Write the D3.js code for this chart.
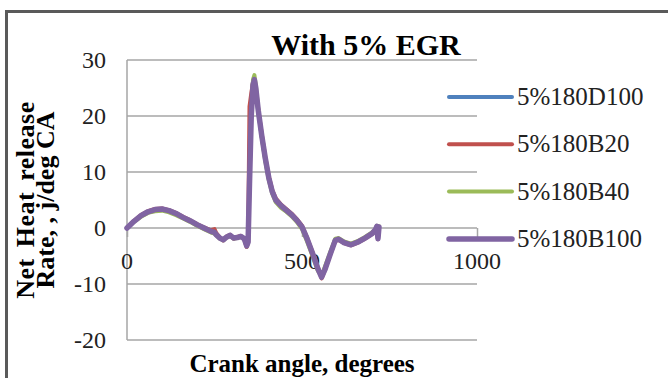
<!DOCTYPE html>
<html>
<head>
<meta charset="utf-8">
<script src="https://cdn.jsdelivr.net/npm/d3@7"></script>
</head>
<body style="margin:0">
<script>
// crank angle (deg)
const angles = [0, 20, 40, 60, 80, 100, 120, 140, 160, 180, 200, 220, 240, 250, 255, 265, 275, 285, 295, 305, 315, 325, 335, 342, 346, 350, 355, 360, 364, 368, 375, 385, 395, 405, 415, 425, 440, 455, 470, 485, 500, 515, 530, 545, 556, 565, 580, 595, 605, 620, 640, 660, 680, 700, 710, 714, 717, 720];

const d100 = [0, 1.2, 2.2, 2.9, 3.2, 3.3, 3.0, 2.5, 1.8, 1.2, 0.5, -0.1, -0.7, -0.9, -1.2, -1.8, -2.1, -1.6, -1.3, -1.8, -1.7, -1.5, -1.9, -3.1, -2.4, 9, 21, 26.2, 26.0, 24.6, 20.8, 16.3, 12.3, 8.9, 6.4, 4.9, 3.9, 3.1, 2.3, 1.3, 0.1, -2.1, -4.6, -7.3, -8.8, -7.4, -4.7, -2.1, -2.0, -2.6, -3.0, -2.5, -1.8, -1.0, -0.3, 0.3, -1.9, 0.2];
const b20 = [0, 1.3, 2.3, 3.0, 3.4, 3.5, 3.2, 2.7, 2.0, 1.4, 0.7, 0.1, -0.4, -0.2, -0.9, -1.7, -2.2, -1.5, -1.2, -1.9, -1.6, -1.4, -2.0, -3.4, -2.6, 21.7, 24, 26.0, 26.1, 24.8, 21.2, 16.8, 12.7, 9.3, 6.8, 5.3, 4.2, 3.4, 2.6, 1.6, 0.4, -1.8, -4.3, -7.0, -9.0, -7.6, -4.9, -2.3, -2.1, -2.7, -3.1, -2.6, -1.9, -1.1, -0.4, 0.2, -2.0, 0.1];
const b40 = [0, 1.1, 2.0, 2.7, 3.0, 3.1, 2.8, 2.3, 1.7, 1.1, 0.4, -0.2, -0.8, -1.0, -1.3, -1.9, -2.2, -1.7, -1.4, -1.9, -1.8, -1.6, -2.0, -3.3, -2.5, 8, 20, 26.5, 27.3, 25.5, 21.2, 16.2, 12.0, 8.6, 6.1, 4.6, 3.6, 2.9, 2.1, 1.1, -0.2, -2.5, -5.0, -7.6, -8.6, -7.0, -4.4, -1.9, -1.8, -2.4, -2.8, -2.3, -1.6, -0.8, -0.2, 0.4, -1.7, 0.3];
const b100 = [0, 1.2, 2.2, 2.9, 3.3, 3.4, 3.1, 2.6, 1.9, 1.3, 0.6, 0.0, -0.6, -0.8, -1.2, -1.8, -2.1, -1.6, -1.3, -1.8, -1.7, -1.5, -1.9, -3.2, -2.5, 8, 20, 25.5, 26.5, 25.0, 21.0, 16.5, 12.5, 9.0, 6.5, 5.0, 4.0, 3.2, 2.4, 1.4, 0.2, -2.0, -4.5, -7.2, -8.8, -7.5, -4.8, -2.2, -2.0, -2.6, -3.0, -2.5, -1.8, -1.0, -0.3, 0.3, -1.9, 0.2];

const seriesNames = ['5%180D100', '5%180B20', '5%180B40', '5%180B100'];
const seriesColors = ['#4f81bd', '#c0504d', '#9bbb59', '#8064a2'];
const seriesValues = [d100, b20, b40, b100];
const seriesWidths = [4, 4, 4, 5.5];

const yTicks = [30, 20, 10, 0, -10, -20];
const xTicks = [0, 500, 1000];

const W = 668, H = 378;
const plot = { left: 127, right: 477, top: 60, bottom: 340 };
const serif = '"Liberation Serif"';

const svg = d3.select('body').append('svg')
    .attr('width', W)
    .attr('height', H)
    .style('display', 'block');

// outer frame (only top/left visible)
svg.append('rect')
    .attr('x', 6.5).attr('y', 11.5)
    .attr('width', W).attr('height', H)
    .attr('fill', 'none')
    .attr('stroke', '#5a5a5a')
    .attr('stroke-width', 3);

const x = d3.scaleLinear().domain([0, 1000]).range([plot.left, plot.right]);
const y = d3.scaleLinear().domain([-20, 30]).range([plot.bottom, plot.top]);

// gridlines
svg.append('g')
    .selectAll('line')
    .data(yTicks)
    .join('line')
    .attr('x1', plot.left).attr('x2', plot.right)
    .attr('y1', d => y(d)).attr('y2', d => y(d))
    .attr('stroke', '#a6a6a6')
    .attr('stroke-width', 1.5);

// left axis line
svg.append('line')
    .attr('x1', plot.left).attr('x2', plot.left)
    .attr('y1', plot.top).attr('y2', plot.bottom)
    .attr('stroke', '#a6a6a6')
    .attr('stroke-width', 1.5);

// y tick labels
svg.append('g')
    .selectAll('text')
    .data(yTicks)
    .join('text')
    .attr('x', 106)
    .attr('y', d => y(d) + 8)
    .attr('text-anchor', 'end')
    .attr('font-size', 24)
    .style('font-family', serif)
    .attr('fill', '#222')
    .text(d => d);

// x axis at y=0 with ticks
const xAxis = d3.axisBottom(x).tickValues(xTicks).tickSize(9).tickFormat('');
const gx = svg.append('g')
    .attr('transform', `translate(0,${y(0)})`)
    .call(xAxis);
gx.select('.domain').remove();
gx.selectAll('line').attr('stroke', '#a6a6a6').attr('stroke-width', 1.5);

svg.append('g')
    .selectAll('text')
    .data(xTicks)
    .join('text')
    .attr('x', d => x(d))
    .attr('y', y(0) + 41)
    .attr('text-anchor', 'middle')
    .attr('font-size', 24)
    .style('font-family', serif)
    .attr('fill', '#222')
    .text(d => d);

// lines
const line = d3.line()
    .x((d, i) => x(angles[i]))
    .y(d => y(d));

seriesValues.forEach((vals, i) => {
    svg.append('path')
        .datum(vals)
        .attr('d', line)
        .attr('fill', 'none')
        .attr('stroke', seriesColors[i])
        .attr('stroke-width', seriesWidths[i])
        .attr('stroke-linejoin', 'round')
        .attr('stroke-linecap', 'round');
});

// title
svg.append('text')
    .attr('x', 366).attr('y', 55)
    .attr('text-anchor', 'middle')
    .attr('font-size', 30)
    .attr('font-weight', 'bold')
    .style('font-family', serif)
    .text('With 5% EGR');

// x label
svg.append('text')
    .attr('x', 302).attr('y', 372)
    .attr('text-anchor', 'middle')
    .attr('font-size', 25)
    .attr('font-weight', 'bold')
    .style('font-family', serif)
    .text('Crank angle, degrees');

// y label
const yl = svg.append('text')
    .attr('transform', 'translate(34,200) rotate(-90)')
    .attr('text-anchor', 'middle')
    .attr('font-size', 26)
    .attr('font-weight', 'bold')
    .style('font-family', serif);
yl.append('tspan').attr('x', 0).attr('y', 0).style('word-spacing', '4px').style('letter-spacing', '0.5px').text('Net Heat release');
yl.append('tspan').attr('x', 0).attr('y', 20).text('Rate, , j/deg CA');

// legend
const legend = svg.append('g');
seriesNames.forEach((name, i) => {
    const cy = 97 + i * 47.3;
    legend.append('line')
        .attr('x1', 449).attr('x2', 512)
        .attr('y1', cy).attr('y2', cy)
        .attr('stroke', seriesColors[i])
        .attr('stroke-width', seriesWidths[i])
        .attr('stroke-linecap', 'round');
    legend.append('text')
        .attr('x', 517).attr('y', cy + 8)
        .attr('font-size', 25)
        .style('font-family', serif)
        .attr('fill', '#222')
        .text(name);
});
</script>
</body>
</html>
